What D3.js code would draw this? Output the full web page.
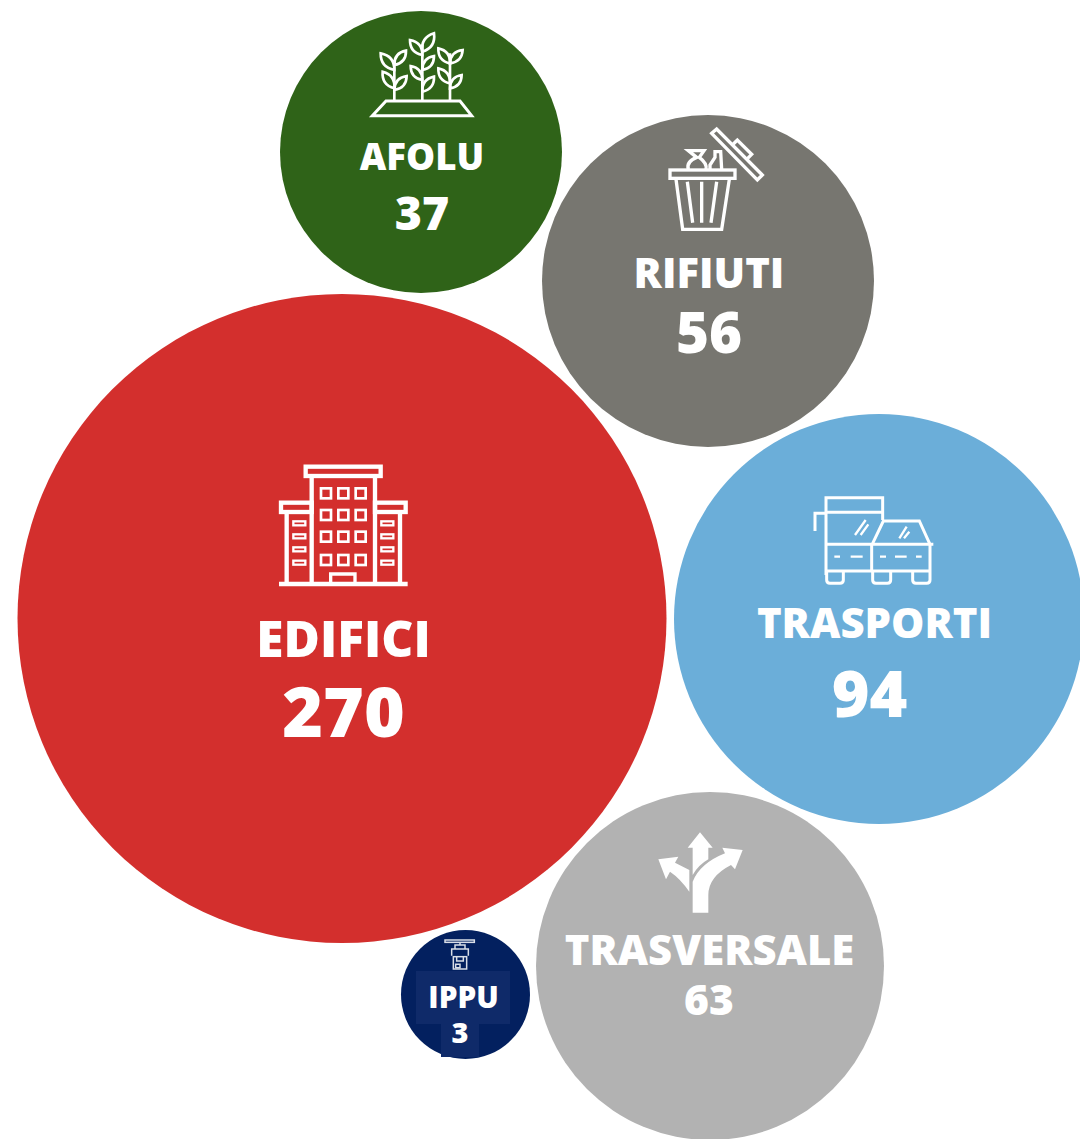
<!DOCTYPE html>
<html>
<head>
<meta charset="utf-8">
<script src="https://cdnjs.cloudflare.com/ajax/libs/d3/7.8.5/d3.min.js"></script>
<style>
  html, body { margin: 0; padding: 0; background: #fff; }
  svg { display: block; }
  text { font-family: "Open Sans", sans-serif; font-weight: 800; fill: #fff; text-anchor: middle; }
  .line-icon * { fill: none; stroke: #fff; stroke-linejoin: miter; }
</style>
</head>
<body>
<div id="chart"></div>
<script>
// data
var categories = ["EDIFICI", "TRASPORTI", "TRASVERSALE", "RIFIUTI", "AFOLU", "IPPU"];
var values = [270, 94, 63, 56, 37, 3];
var colors = ["#d32f2d", "#6baed9", "#b2b2b2", "#777670", "#2f6318", "#03205f"];

// hand placed bubbles, same order as categories
var centers = [[342, 618.5], [879, 619], [710, 966], [708, 281], [421, 152], [465.5, 994.5]];
var labelPos = [[343.5, 657, 49.6], [874.5, 638, 41.9], [709.5, 965, 41.8], [709, 288, 41.8], [422, 170, 36.6], [463.5, 1008, 29.7]];
var valuePos = [[343.5, 737, 69.7], [869.5, 717, 64.6], [709, 1015, 42.5], [709, 353, 56.5], [422, 230, 46.5], [460, 1043, 29]];

var width = 1080, height = 1139;

// radius does not follow a single sqrt in the original, so piecewise
var rScale = d3.scaleLinear()
    .domain([3, 37, 56, 63, 94, 270])
    .range([64.5, 141, 166, 174, 205, 324.5]);

var svg = d3.select("#chart").append("svg")
    .attr("width", width)
    .attr("height", height);

svg.selectAll("circle.bubble")
    .data(categories)
    .enter().append("circle")
    .attr("class", "bubble")
    .attr("cx", function(d, i) { return centers[i][0]; })
    .attr("cy", function(d, i) { return centers[i][1]; })
    .attr("r", function(d, i) { return rScale(values[i]); })
    .style("fill", function(d, i) { return colors[i]; });

// the two lighter boxes behind the IPPU text
svg.append("rect").attr("x", 416).attr("y", 971).attr("width", 94).attr("height", 53).style("fill", "#0f2a69");
svg.append("rect").attr("x", 441).attr("y", 1024).attr("width", 38).attr("height", 33).style("fill", "#0f2a69");

// icons are drawn in the coordinates of a 3x crop
function iconGroup(x, y, sw) {
    return svg.append("g")
        .attr("class", "line-icon")
        .attr("transform", "translate(" + x + "," + y + ") scale(" + (1 / 3) + ")")
        .style("stroke-width", sw);
}
function addRect(g, x0, y0, x1, y1, sw) {
    var r = g.append("rect").attr("x", x0).attr("y", y0).attr("width", x1 - x0).attr("height", y1 - y0);
    if (sw) r.style("stroke-width", sw);
}
function addPath(g, d, sw) {
    var p = g.append("path").attr("d", d);
    if (sw) p.style("stroke-width", sw);
}
function leaf(g, x0, y0, x1, y1) {
    var mx = (x0 + x1) / 2, my = (y0 + y1) / 2;
    var dx = (y1 - y0) * 0.42, dy = (x0 - x1) * 0.42;
    addPath(g, "M" + x0 + "," + y0 + "Q" + (mx + dx) + "," + (my + dy) + " " + x1 + "," + y1 +
        "Q" + (mx - dx) + "," + (my - dy) + " " + x0 + "," + y0 + "Z");
}

// EDIFICI
var gEd = iconGroup(260, 450, 13);
addRect(gEd, 137, 50, 362, 78);
addPath(gEd, "M155,78V400M345,78V400M80,186V400M420,186V400M57,402H443");
addRect(gEd, 63, 158, 155, 186);
addRect(gEd, 345, 158, 437, 186);
addPath(gEd, "M212,400V372H285V400", 10);
[183, 235, 287].forEach(function(x) {
    [115, 180, 245, 315].forEach(function(y) { addRect(gEd, x, y, x + 30, y + 30, 8); });
});
[100, 364].forEach(function(x) {
    [214, 253, 292, 332].forEach(function(y) { addRect(gEd, x, y, x + 36, y + 12, 7); });
});

// AFOLU
var gAf = iconGroup(360, 20, 8);
addPath(gAf, "M103,120V240M187,75V240M270,100V240");
addPath(gAf, "M78,243H300L335,287H37Z", 9);
[[103, 150, 62, 100], [103, 135, 138, 92], [103, 205, 68, 155], [103, 210, 140, 168],
 [187, 105, 150, 60], [187, 95, 222, 40], [187, 180, 152, 138], [187, 150, 222, 108], [187, 215, 222, 170],
 [270, 130, 235, 85], [270, 130, 308, 90], [270, 190, 235, 145], [270, 205, 305, 165]].forEach(function(l) {
    leaf(gAf, l[0], l[1], l[2], l[3]);
});

// RIFIUTI
var gRi = iconGroup(650, 120, 10);
addRect(gRi, 60, 150, 255, 175);
addPath(gRi, "M78,178L98,328H215L238,178M112,185L128,308M155,185V308M200,185L183,308");
addPath(gRi, "M185,40L200,27L337,165L322,180Z");
addPath(gRi, "M250,72L262,60L305,103L293,115");
addPath(gRi, "M115,148Q108,125 140,112L115,92L162,92L148,112Q172,130 168,148");
addPath(gRi, "M180,148V135L195,112V95H212L215,148");

// TRASPORTI
var gTr = iconGroup(800, 485, 9);
addPath(gTr, "M78,270V38H248V105M78,82H248M45,138V85H78");
addPath(gTr, "M78,178H400M215,178V258M78,258H390M390,178V258");
addPath(gTr, "M218,175L250,108H358L390,178");
addPath(gTr, "M80,258V285Q80,295 90,295H120Q130,295 130,285V258M218,258V285Q218,295 228,295H262Q272,295 272,285V258M338,258V285Q338,295 348,295H380Q390,295 390,285V258");
addPath(gTr, "M103,215H120M152,215H188M240,215H258M285,215H320M348,215H365", 7);
addPath(gTr, "M165,150L197,105M182,150L205,118M298,160L320,125M312,160L328,140", 7);

// TRASVERSALE, filled arrows
var gTv = svg.append("g")
    .attr("transform", "translate(645,820) scale(" + (1 / 3) + ")")
    .style("fill", "#fff");
gTv.append("path").attr("d", "M128,83L165,37L203,83H190V118Q160,135 143,165V83Z");
gTv.append("path").attr("d", "M143,278H190V225Q190,170 258,135L270,148L293,90L232,83L240,100Q165,130 143,185Z");
gTv.append("path").attr("d", "M40,118L100,110L90,128L133,150V215Q105,175 75,155L63,178Z");

// IPPU
var gIp = iconGroup(395, 925, 4.5);
gIp.style("opacity", 0.85);
addRect(gIp, 150, 45, 238, 52);
addPath(gIp, "M195,52V60M180,60H210V72H180ZM170,92V72H220V92");
addRect(gIp, 175, 95, 215, 132);
addPath(gIp, "M185,95V108H205V95M182,118H195V128H182Z");

// labels
svg.selectAll("text.name")
    .data(categories)
    .enter().append("text")
    .attr("class", "name")
    .attr("x", function(d, i) { return labelPos[i][0]; })
    .attr("y", function(d, i) { return labelPos[i][1]; })
    .style("font-size", function(d, i) { return labelPos[i][2] + "px"; })
    .text(function(d) { return d; });

svg.selectAll("text.value")
    .data(values)
    .enter().append("text")
    .attr("class", "value")
    .attr("x", function(d, i) { return valuePos[i][0]; })
    .attr("y", function(d, i) { return valuePos[i][1]; })
    .style("font-size", function(d, i) { return valuePos[i][2] + "px"; })
    .text(function(d) { return d; });
</script>
</body>
</html>
